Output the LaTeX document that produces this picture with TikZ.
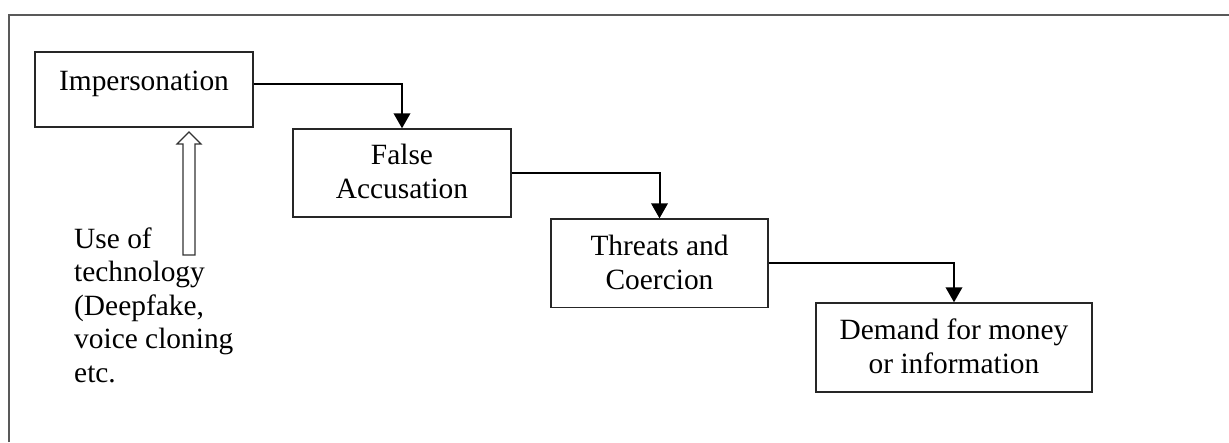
\documentclass[tikz,border=0pt]{standalone}
\usepackage{fontspec}
\setmainfont{Liberation Serif}
\usetikzlibrary{arrows.meta}
\newcommand\tstrut{\rule{0pt}{25pt}}
\tikzset{
  box/.style={draw=black!85, line width=1.4pt, minimum width=#1, inner sep=0pt},
  boxtxt/.style={anchor=north, inner sep=0pt, align=center, font=\fontsize{29.4}{34.3}\selectfont},
  flow/.style={draw=black, line width=2pt, -{Triangle[width=16.5pt,length=15pt]}},
  frame/.style={draw=black!65, line width=1.5pt},
  hollow/.style={draw=black!80, line width=1.2pt, fill=white}
}
\begin{document}
\begin{tikzpicture}[x=1pt,y=-1pt]
\useasboundingbox (0,0) rectangle (1229,442);
\draw[frame] (9,442) -- (9,15) -- (1229,15);

\node[box=218pt, minimum height=75pt] (imp) at (144,89.5) {};
\node[boxtxt] (impT) at ([yshift=-14pt]imp.north) {\tstrut Impersonation};

\node[box=218pt, minimum height=88pt] (fa) at (402,173) {};
\node[boxtxt] (faT) at ([yshift=-11pt]fa.north) {\tstrut False\\Accusation};

\node[box=217pt, minimum height=88.5pt] (tc) at (659.5,263.3) {};
\node[boxtxt] (tcT) at ([yshift=-12pt]tc.north) {\tstrut Threats and\\Coercion};

\node[box=276pt, minimum height=89pt] (dm) at (954,347.5) {};
\node[boxtxt] (dmT) at ([yshift=-12pt]dm.north) {\tstrut Demand for money\\or information};

\node[anchor=north west, inner sep=0pt, align=left, font=\fontsize{29.4}{33.4}\selectfont] (tech) at (74,223.3)
  {\tstrut Use of\\technology\\(Deepfake,\\voice cloning\\etc.};

\draw[hollow] (183,255) -- (183,144) -- (177,144) -- (189,132) -- (201,144) -- (195,144) -- (195,255) -- cycle;

\draw[flow] ([yshift=5.5pt]imp.east) -| (fa.north);
\draw[flow] (fa.east) -| (tc.north);
\draw[flow] (tc.east) -| (dm.north);
\end{tikzpicture}
\end{document}
